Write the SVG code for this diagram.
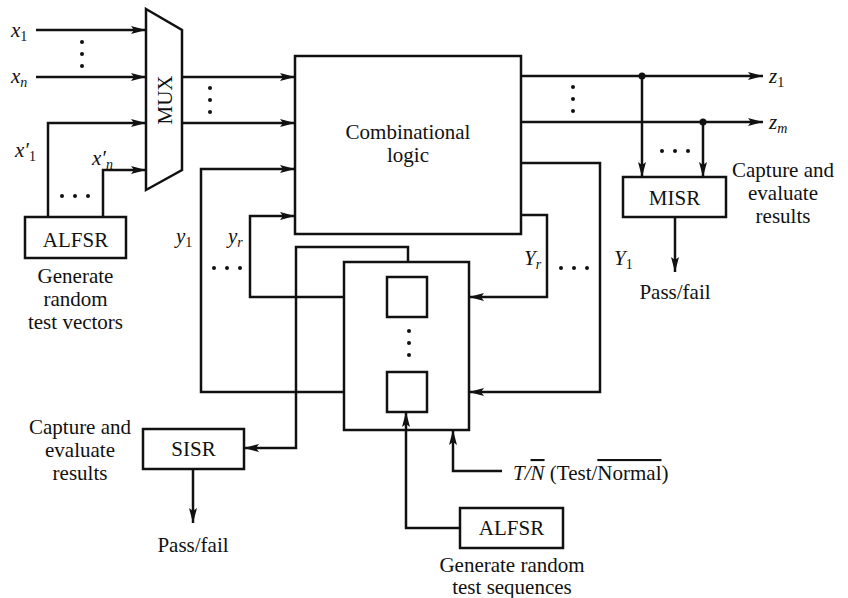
<svg xmlns="http://www.w3.org/2000/svg" width="848" height="598" viewBox="0 0 848 598">
<style>
.t{font-family:"Liberation Serif","Times New Roman",serif;font-size:21px;fill:#111}
.m{text-anchor:middle}
.i{font-style:italic}
.s{font-size:14px}
.box{fill:none;stroke:#111;stroke-width:2.5}
.w{fill:none;stroke:#111;stroke-width:2.5}
.d{fill:#111}
</style>
<defs>
<marker id="a" markerUnits="userSpaceOnUse" markerWidth="16" markerHeight="10" refX="15" refY="5" orient="auto">
<path d="M0,1 L15,5 L0,9 L3,5 z" fill="#111"/>
</marker>
</defs>
<rect width="848" height="598" fill="#fff"/>

<g id="mux">
<polygon class="box" points="146,9 182,30 182,170 146,190"/>
<text class="t m" x="165" y="107" transform="rotate(-90 165 100)">MUX</text>
</g>
<g id="comb">
<rect class="box" x="295" y="56" width="226" height="178"/>
<text class="t m" x="408" y="139">Combinational</text>
<text class="t m" x="408" y="162">logic</text>
</g>
<g id="alfsr1">
<rect class="box" x="25" y="217" width="101" height="41"/>
<text class="t m" x="75.5" y="247">ALFSR</text>
<text class="t m" x="75.5" y="283">Generate</text>
<text class="t m" x="75.5" y="306">random</text>
<text class="t m" x="75.5" y="329">test vectors</text>
</g>
<g id="misr">
<rect class="box" x="623" y="177" width="103" height="40"/>
<text class="t m" x="674.5" y="205">MISR</text>
<text class="t m" x="783" y="177">Capture and</text>
<text class="t m" x="783" y="200">evaluate</text>
<text class="t m" x="783" y="223">results</text>
<text class="t m" x="675" y="299">Pass/fail</text>
</g>
<g id="register">
<rect class="box" x="344" y="262" width="125" height="168"/>
<rect class="box" x="387" y="277" width="40" height="40"/>
<rect class="box" x="387" y="372" width="40" height="40"/>
</g>
<g id="sisr">
<rect class="box" x="143" y="429" width="101" height="40"/>
<text class="t m" x="193.5" y="456">SISR</text>
<text class="t m" x="80" y="434">Capture and</text>
<text class="t m" x="80" y="457">evaluate</text>
<text class="t m" x="80" y="480">results</text>
<text class="t m" x="193" y="552">Pass/fail</text>
</g>
<g id="alfsr2">
<rect class="box" x="460" y="508" width="103" height="40"/>
<text class="t m" x="511.5" y="535">ALFSR</text>
<text class="t m" x="512" y="572">Generate random</text>
<text class="t m" x="512" y="594">test sequences</text>
</g>

<g id="connectors" class="w" marker-end="url(#a)">
<path d="M36,30 H146"/>
<path d="M36,77 H146"/>
<path d="M48,217 V123 H146"/>
<path d="M103,217 V170 H146"/>
<path d="M182,77 H295"/>
<path d="M182,123 H295"/>
<path d="M343,392 H201 V169 H295"/>
<path d="M343,297 H250 V216 H295"/>
<path d="M521,76 H763"/>
<path d="M521,122 H763"/>
<path d="M642,76 V177"/>
<path d="M703,122 V177"/>
<path d="M675,217 V272"/>
<path d="M521,163 H600 V392 H469"/>
<path d="M521,215 H547 V297 H469"/>
<path d="M408,262 V247 H296 V448 H244"/>
<path d="M193,469 V523"/>
<path d="M460,528 H406 V412"/>
<path d="M502,471 H453 V430"/>
</g>
<g id="junctions">
<circle class="d" cx="642" cy="76" r="3.5"/>
<circle class="d" cx="703" cy="122" r="3.5"/>
</g>
<g id="dots" class="d">
<circle cx="82" cy="42" r="2"/><circle cx="82" cy="54" r="2"/><circle cx="82" cy="66" r="2"/>
<circle cx="210" cy="88" r="2"/><circle cx="210" cy="100" r="2"/><circle cx="210" cy="112" r="2"/>
<circle cx="62" cy="196" r="2"/><circle cx="75" cy="196" r="2"/><circle cx="88" cy="196" r="2"/>
<circle cx="573" cy="87" r="2"/><circle cx="573" cy="99" r="2"/><circle cx="573" cy="111" r="2"/>
<circle cx="662" cy="151" r="2"/><circle cx="675" cy="151" r="2"/><circle cx="688" cy="151" r="2"/>
<circle cx="214" cy="268" r="2"/><circle cx="227" cy="268" r="2"/><circle cx="240" cy="268" r="2"/>
<circle cx="561" cy="268" r="2"/><circle cx="574" cy="268" r="2"/><circle cx="587" cy="268" r="2"/>
<circle cx="409" cy="331" r="2"/><circle cx="409" cy="343" r="2"/><circle cx="409" cy="355" r="2"/>
</g>
<g id="labels">
<text class="t i" x="11" y="37">x<tspan class="s" dy="4" font-style="normal">1</tspan></text>
<text class="t i" x="11" y="83">x<tspan class="s" dy="4">n</tspan></text>
<text class="t i" x="15" y="157">x′<tspan class="s" dy="4" font-style="normal">1</tspan></text>
<text class="t i" x="92" y="165">x′<tspan class="s" dy="4">n</tspan></text>
<text class="t i" x="176" y="243">y<tspan class="s" dy="4" font-style="normal">1</tspan></text>
<text class="t i" x="228" y="243">y<tspan class="s" dy="4">r</tspan></text>
<text class="t i" x="524" y="265">Y<tspan class="s" dy="4">r</tspan></text>
<text class="t i" x="614" y="265">Y<tspan class="s" dy="4" font-style="normal">1</tspan></text>
<text class="t i" x="769" y="83">z<tspan class="s" dy="4" font-style="normal">1</tspan></text>
<text class="t i" x="769" y="129">z<tspan class="s" dy="4">m</tspan></text>
<text class="t" x="513" y="480"><tspan class="i">T</tspan><tspan class="i">/</tspan><tspan class="i" style="text-decoration:overline">N</tspan> (Test/<tspan style="text-decoration:overline">Normal</tspan>)</text>
</g>
</svg>
